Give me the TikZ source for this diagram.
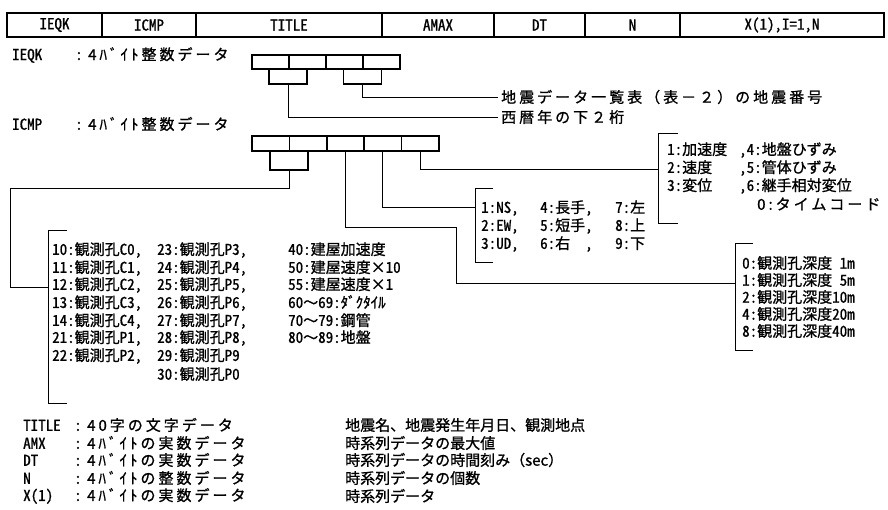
\documentclass[tikz,border=0pt]{standalone}
\usepackage{fontspec}
\usepackage{calc}
\setmainfont{Noto Sans CJK JP}[RawFeature=+hwid,FakeBold=1]
\newfontfamily\spaced{Noto Sans CJK JP}[LetterSpace=20,FakeBold=1]
\newfontfamily\fw{Noto Sans CJK JP}[FakeBold=1]
\begin{document}
\begin{tikzpicture}[x=1pt,y=-1pt,
  font=\fontsize{15}{17}\selectfont,
  cell/.style={draw,line width=1.3pt,inner sep=0pt,outer sep=0pt,minimum height=24pt},
  byte/.style={draw,line width=1.5pt,inner sep=0pt,outer sep=0pt,minimum width=37.4pt,minimum height=15pt},
  conn/.style={line width=0.9pt},
  txt/.style={anchor=west,inner sep=0pt}]
\useasboundingbox (0,0) rectangle (888,509);

% top record table
\node[cell,minimum width=95pt]  (tIEQK)  at (54.5,25)  {IEQK};
\node[cell,minimum width=94pt]  (tICMP)  at (149,25)   {ICMP};
\node[cell,minimum width=186pt] (tTITLE) at (289,25)   {TITLE};
\node[cell,minimum width=112pt] (tAMAX)  at (438,25)   {AMAX};
\node[cell,minimum width=91pt]  (tDT)    at (539.5,25) {DT};
\node[cell,minimum width=95pt]  (tN)     at (632.5,25) {N};
\node[cell,minimum width=204pt] (tX)     at (782,25)   {X(1),I=1,N};

% IEQK
\node[txt] (dIEQK) at (12,55) {\makebox[63pt][l]{IEQK}\makebox[13pt][l]{:}{\spaced 4ﾊﾞｲﾄ整数データ}};
\node[byte,minimum width=37pt,minimum height=14pt] (e1) at (270.5,62) {};
\node[byte,minimum width=37pt,minimum height=14pt] (e2) at (307.5,62) {};
\node[byte,minimum width=37pt,minimum height=14pt] (e3) at (344.5,62) {};
\node[byte,minimum width=37pt,minimum height=14pt] (e4) at (381.5,62) {};
\node[byte,minimum width=38pt] (e5) at (288,76.5) {};
\node[byte,minimum width=38pt] (e6) at (362.5,76.5) {};
\node[txt,inner xsep=3pt] (lq) at (498,97) {{\spaced 地震データ一覧表（表－２）の地震番号}};
\node[txt,inner xsep=3pt] (ly) at (498,117) {{\spaced 西暦年の下２桁}};
\draw[conn] (e6.south) |- (lq.west);
\draw[conn] (e5.south) |- (ly.west);

% ICMP
\node[txt] (dICMP) at (12,124) {\makebox[63pt][l]{ICMP}\makebox[13pt][l]{:}{\spaced 4ﾊﾞｲﾄ整数データ}};
\node[byte] (c1) at (270.7,143.5) {};
\node[byte] (c2) at (308.1,143.5) {};
\node[byte] (c3) at (345.5,143.5) {};
\node[byte] (c4) at (382.9,143.5) {};
\node[byte] (c5) at (420.3,143.5) {};
\node[byte,minimum width=38pt,minimum height=19pt] (c6) at (289,160.5) {};

% bracket A : observation points
\coordinate (k1) at (10,188);
\coordinate (bA) at (48,287);
\coordinate (bAt) at (67,230);
\coordinate (bAtl) at (48,230);
\coordinate (bAbl) at (48,403);
\coordinate (bAb) at (67,403);
\draw[conn] (c6.south) |- (k1) |- (bA);
\draw[conn] (bAt) -- (bAtl) -- (bAbl) -- (bAb);
\node[txt] (a1) at (52,250) {\makebox[105pt][l]{10:観測孔C0,}\makebox[131pt][l]{23:観測孔P3,}40:建屋加速度};
\node[txt] (a2) at (52,268) {\makebox[105pt][l]{11:観測孔C1,}\makebox[131pt][l]{24:観測孔P4,}50:建屋速度×10};
\node[txt] (a3) at (52,285) {\makebox[105pt][l]{12:観測孔C2,}\makebox[131pt][l]{25:観測孔P5,}55:建屋速度×1};
\node[txt] (a4) at (52,303) {\makebox[105pt][l]{13:観測孔C3,}\makebox[131pt][l]{26:観測孔P6,}60{\fw ～}69:ﾀﾞｸﾀｲﾙ};
\node[txt] (a5) at (52,321) {\makebox[105pt][l]{14:観測孔C4,}\makebox[131pt][l]{27:観測孔P7,}70{\fw ～}79:鋼管};
\node[txt] (a6) at (52,338) {\makebox[105pt][l]{21:観測孔P1,}\makebox[131pt][l]{28:観測孔P8,}80{\fw ～}89:地盤};
\node[txt] (a7) at (52,356) {\makebox[105pt][l]{22:観測孔P2,}29:観測孔P9};
\node[txt] (a8) at (157,374) {30:観測孔P0};

% bracket N : direction
\coordinate (bN) at (475,207);
\coordinate (bNt) at (493,188);
\coordinate (bNtl) at (475,188);
\coordinate (bNbl) at (475,262);
\coordinate (bNb) at (493,262);
\draw[conn] (c4.south) |- (bN);
\draw[conn] (bNt) -- (bNtl) -- (bNbl) -- (bNb);
\node[txt] (n1) at (481,208) {\makebox[59pt][l]{1:NS,}\makebox[75pt][l]{4:長手,}7:左};
\node[txt] (n2) at (481,226) {\makebox[59pt][l]{2:EW,}\makebox[75pt][l]{5:短手,}8:上};
\node[txt] (n3) at (481,244) {\makebox[59pt][l]{3:UD,}\makebox[75pt][l]{\makebox[\widthof{6:長手}][l]{6:右},}9:下};

% bracket K : kind
\coordinate (bK) at (658,169);
\coordinate (bKt) at (678,133);
\coordinate (bKtl) at (658,133);
\coordinate (bKbl) at (658,223);
\coordinate (bKb) at (678,223);
\draw[conn] (c5.south) |- (bK);
\draw[conn] (bKt) -- (bKtl) -- (bKbl) -- (bKb);
\node[txt] (k1a) at (667,150) {\makebox[72pt][l]{1:加速度},4:地盤ひずみ};
\node[txt] (k2a) at (667,168) {\makebox[72pt][l]{2:速度},5:管体ひずみ};
\node[txt] (k3a) at (667,186) {\makebox[72pt][l]{3:変位},6:継手相対変位};
\node[txt] (k4a) at (757,204) {{\spaced 0:タイムコード}};

% bracket D : depth
\coordinate (m1) at (456,227);
\coordinate (bD) at (735,283);
\coordinate (bDt) at (753,243);
\coordinate (bDtl) at (735,243);
\coordinate (bDbl) at (735,350);
\coordinate (bDb) at (753,350);
\draw[conn] (c3.south) |- (m1) |- (bD);
\draw[conn] (bDt) -- (bDtl) -- (bDbl) -- (bDb);
\node[txt] (p1) at (742,263) {0:観測孔深度\hphantom{1}1m};
\node[txt] (p2) at (742,280) {1:観測孔深度\hphantom{1}5m};
\node[txt] (p3) at (742,297) {2:観測孔深度10m};
\node[txt] (p4) at (742,314) {4:観測孔深度20m};
\node[txt] (p5) at (742,331) {8:観測孔深度40m};

% bottom legend
\node[txt] (g1) at (23,425) {\makebox[51pt][l]{TITLE}\makebox[13pt][l]{:}{\spaced 40字の文字データ}};
\node[txt] (g2) at (23,443) {\makebox[51pt][l]{AMX}\makebox[13pt][l]{:}{\spaced 4ﾊﾞｲﾄの実数データ}};
\node[txt] (g3) at (23,460) {\makebox[51pt][l]{DT}\makebox[13pt][l]{:}{\spaced 4ﾊﾞｲﾄの実数データ}};
\node[txt] (g4) at (23,478) {\makebox[51pt][l]{N}\makebox[13pt][l]{:}{\spaced 4ﾊﾞｲﾄの整数データ}};
\node[txt] (g5) at (23,496) {\makebox[51pt][l]{X(1)}\makebox[13pt][l]{:}{\spaced 4ﾊﾞｲﾄの実数データ}};
\node[txt] (h1) at (345,425) {地震名、地震発生年月日、観測地点};
\node[txt] (h2) at (345,443) {時系列データの最大値};
\node[txt] (h3) at (345,460) {時系列データの時間刻み{\fw （sec）}};
\node[txt] (h4) at (345,478) {時系列データの個数};
\node[txt] (h5) at (345,496) {時系列データ};
\end{tikzpicture}
\end{document}
